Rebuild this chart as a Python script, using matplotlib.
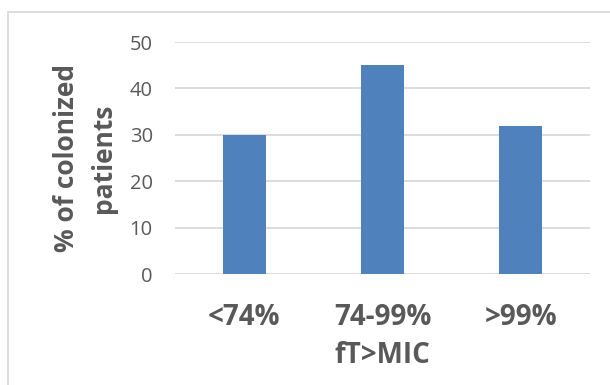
import matplotlib
matplotlib.use("Agg")
from matplotlib import pyplot as plt
from matplotlib.patches import Rectangle

# data
categories = ["<74%", "74-99%", ">99%"]
pct_colonized = [30, 45, 32]
y_ticks = [0, 10, 20, 30, 40, 50]

text_col = "#595959"
bar_col = "#4F81BD"

plt.rcParams['font.family'] = ['Open Sans', 'DejaVu Sans']

fig = plt.figure(figsize=(6.1, 3.85), dpi=100)
ax = fig.add_axes([175/610, 1 - 274/385, 415/610, 232/385])

# outer chart border (runs off the right and bottom edges)
fig.patches.append(Rectangle((8/610, -0.05), 1.2, 1 - 12/385 + 0.05,
                             transform=fig.transFigure, fill=False,
                             edgecolor="#d9d9d9", linewidth=1.3))

x = range(len(categories))
ax.bar(x, pct_colonized, width=0.31, color=bar_col, zorder=3)

ax.set_xlim(-0.5, 2.5)
ax.set_ylim(0, 50)
ax.set_yticks(y_ticks)
ax.grid(axis="y", color="#d9d9d9", linewidth=1.3, zorder=0)
for s in ax.spines.values():
    s.set_visible(False)

ax.set_xticks(list(x))
ax.set_xticklabels(categories, fontsize=20, fontweight="bold", color=text_col)
ax.tick_params(axis="x", length=0, pad=21)
ax.tick_params(axis="y", length=0, pad=16, labelsize=14.5, labelcolor=text_col)

ax.set_xlabel("fT>MIC", fontsize=20, fontweight="bold", color=text_col)
ax.xaxis.set_label_coords(0.5, -0.35)
ax.xaxis.label.set_va("center")
ax.set_ylabel("% of colonized\npatients", fontsize=19, fontweight="bold",
              color=text_col, linespacing=1.45)
ax.yaxis.set_label_coords(-0.217, 0.5)
ax.yaxis.label.set_va("center")

plt.savefig("out.png", dpi=100)
